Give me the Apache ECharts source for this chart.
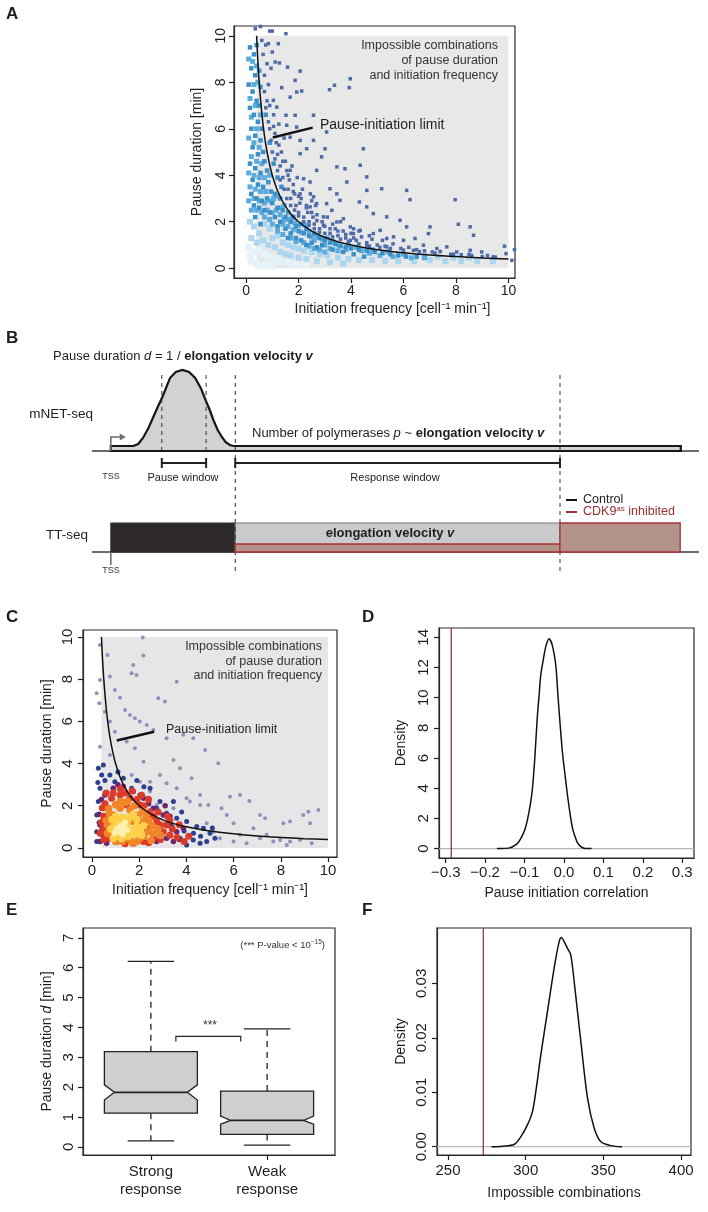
<!DOCTYPE html>
<html><head><meta charset="utf-8">
<script src="https://cdn.jsdelivr.net/npm/echarts@6/dist/echarts.min.js"></script>
<style>html,body{margin:0;padding:0;background:#fff}#c{width:708px;height:1212px}</style>
</head><body><div id="c"></div>
<script>
// ================= DATA =================
// ---- Panel A (pause duration vs initiation frequency, all genes) ----
const aTicks = [0, 2, 4, 6, 8, 10];
const aLimitCurve = [[0.4,10],[0.45,8.9],[0.5,8],[0.6,6.67],[0.7,5.7],[0.8,5],[0.9,4.45],[1,4],[1.2,3.33],[1.4,2.86],[1.6,2.5],[1.8,2.22],[2,2],[2.5,1.6],[3,1.33],[3.5,1.14],[4,1],[5,0.8],[6,0.67],[7,0.57],[8,0.5],[9,0.44],[10,0.4]];
const aImpossibleRegion = [[0.4, 0, 10, 10]];
const aPointer = [[1.02, 5.62, 2.54, 6.05]];
const aSparse = [[1.52,10.09],[0.85,9.66],[1.23,9.66],[1.11,8.87],[1.27,8.83],[1.58,8.65],[2.06,8.48],[1.87,8.08],[1.93,7.58],[1.68,7.36],[2.12,7.62],[3.18,7.68],[3.37,7.87],[3.93,7.77],[3.97,8.15],[1.36,7.77],[1.04,7.22],[1.17,6.93],[1.52,6.58],[1.87,6.58],[2.57,6.58],[1.55,6.15],[1.93,6.07],[3.07,5.86],[1.68,5.64],[2.06,5.5],[2.57,5.5],[3.01,5.14],[4.47,5.14],[2.06,4.93],[2.31,5.14],[2.88,4.79],[3.46,4.36],[3.77,4.28],[4.35,4.43],[4.6,3.93],[2.69,4.21],[1.68,4.21],[2.19,3.85],[2.44,3.71],[3.2,3.42],[3.46,3.2],[3.84,3.71],[5.17,3.42],[4.6,3.35],[6.12,3.35],[6.25,2.95],[7.97,2.95],[2.06,3.2],[2.57,3.07],[2.69,2.78],[3.07,2.78],[3.58,2.92],[4.32,2.85],[4.6,2.64],[4.85,2.35],[5.36,2.21],[5.87,2.06],[2.95,2.21],[3.46,1.99],[3.97,1.78],[4.35,1.63],[4.85,1.49],[5.36,1.28],[6.12,1.78],[6.44,1.28],[7.01,1.78],[6.95,1.49],[7.65,0.92],[8.09,1.89],[8.54,1.78],[8.67,1.42],[8.54,0.77],[8.98,0.7],[9.42,0.49],[9.85,0.95],[9.91,0.63],[10.23,0.8],[10.13,0.34],[5.62,1.35],[6.0,1.2],[6.76,0.99],[7.27,0.85],[8.03,0.7],[5.11,1.63],[4.09,1.49],[3.71,2.13],[3.27,2.49],[2.44,2.64],[3.97,1.2],[4.6,0.99],[6.38,0.77],[5.36,0.92],[0.55,10.4],[0.9,10.2],[1.0,10.2],[0.35,10.3]];
const aBand = [[1.0,5.0],[0.9,6.0],[0.8,7.2],[0.7,8.3],[0.65,9.2],[0.6,9.8],[0.85,7.9],[1.1,5.8],[1.2,4.9],[1.3,4.4],[1.4,3.9],[1.5,4.6],[1.6,3.4],[1.7,3.0],[1.8,3.6],[1.9,2.7],[2.0,2.4],[2.1,3.0],[2.2,2.2],[2.3,2.6],[2.4,2.0],[2.5,2.9],[2.6,1.9],[2.7,2.3],[2.8,1.7],[3.0,1.8],[3.1,2.2],[3.2,1.5],[3.4,1.7],[3.5,1.4],[3.6,2.0],[3.8,1.3],[4.0,1.5],[4.2,1.2],[4.4,1.35],[4.6,1.1],[4.8,1.25],[5.0,1.0],[5.3,0.95],[5.6,1.05],[5.9,0.85],[6.2,0.9],[6.5,0.8],[6.8,0.75],[7.1,0.7],[7.4,0.72],[7.8,0.6],[8.2,0.58],[8.6,0.55],[9.0,0.5],[9.5,0.48],[1.05,6.6],[1.15,5.4],[1.25,6.2],[1.35,5.0],[0.95,8.6],[1.0,9.3],[0.75,9.6],[1.45,5.6],[1.55,4.2],[1.65,3.8],[1.75,4.4],[1.85,3.2],[1.95,3.9],[2.05,2.8],[2.15,3.4],[2.35,2.4],[2.45,3.2],[2.55,2.2],[2.65,2.7],[2.9,2.0],[3.3,1.9],[3.7,1.6],[4.1,1.3],[4.3,1.6],[4.7,1.4],[5.2,1.2],
  [0.7,7.6],[0.75,6.9],[0.85,6.3],[0.95,5.5],[1.1,4.7],[1.2,4.2],[1.3,3.8],[1.45,3.4],[1.55,3.0],[1.7,2.7],[1.85,2.5],[2.0,2.25],[2.2,2.0],[2.4,1.85],[2.6,1.7],[2.8,1.55],[3.0,1.5],[3.3,1.35],[3.6,1.25],[3.9,1.15],[4.3,1.05],[4.7,0.95],[5.1,0.9],[5.5,0.85],[6.0,0.78],[6.6,0.72],[7.2,0.65],[7.9,0.6],[8.5,0.6],[9.2,0.55],[0.8,8.8],[0.9,7.0],[1.05,6.1],[1.25,5.3],[1.4,4.6],[1.6,4.0],[1.8,3.3],[2.0,3.1],[2.3,2.7],[2.5,2.4],[2.7,2.05],[2.95,1.85],[3.2,1.7],[3.5,1.6],[3.8,1.45],[4.1,1.7]];
const aCloudDense = [[0.15,9.5],[0.3,9.2],[0.2,8.6],[0.35,8.3],[0.1,7.9],[0.25,7.6],[0.4,7.2],[0.15,6.9],[0.3,6.6],[0.45,6.3],[0.5,7.0],[0.2,6.0],[0.35,5.7],[0.55,5.5],[0.6,6.0],[0.25,5.2],[0.45,4.9],[0.65,5.0],[0.7,4.6],[0.15,4.5],[0.35,4.3],[0.55,4.1],[0.8,4.2],[0.25,3.8],[0.45,3.6],[0.65,3.5],[0.85,3.7],[0.95,3.3],[0.2,3.2],[0.4,3.0],[0.6,2.9],[0.8,3.0],[1.0,2.8],[1.1,3.2],[1.2,2.6],[1.3,3.0],[1.4,2.5],[1.5,2.2],[1.6,2.4],[1.7,2.0],[1.8,2.2],[1.9,1.8],[2.0,1.6],[2.1,1.9],[2.2,1.5],[2.3,1.7],[2.4,1.4],[2.6,1.5],[2.8,1.3],[3.0,1.2],[3.2,1.1],[3.4,1.05],[3.6,0.95],[3.8,0.9],[4.0,0.85],[4.3,0.8],[4.6,0.75],[4.9,0.7],[5.2,0.65],[5.5,0.6],[5.8,0.55],[6.1,0.5],[6.5,0.5],[2.5,1.1],[2.7,0.9],[2.9,1.0],[3.3,0.8],[3.7,0.7],[4.1,0.6],[4.5,0.5],[1.3,2.0],[1.5,1.7],[1.7,1.5],[1.9,1.3],[2.1,1.2],[2.3,1.0],[0.9,2.4],[1.1,2.2],[0.7,2.5],[0.5,2.6],[0.3,2.7],[0.55,1.9],[0.35,2.2],[1.2,1.8],[1.6,1.3],[0.5,8.5],[0.4,9.6],[0.55,7.8],[0.75,6.6],[0.9,5.4],[1.05,4.5],[1.2,3.9],[1.35,3.5]];
const aCloudMid = [[0.1,9.0],[0.25,8.9],[0.4,8.7],[0.45,8.0],[0.3,7.9],[0.15,7.3],[0.35,7.0],[0.55,6.6],[0.2,6.5],[0.4,6.0],[0.1,5.6],[0.3,5.4],[0.5,5.2],[0.2,4.8],[0.4,4.6],[0.6,4.5],[0.1,4.1],[0.3,4.0],[0.5,3.9],[0.7,3.9],[0.9,4.0],[0.15,3.5],[0.35,3.4],[0.55,3.3],[0.75,3.3],[0.1,2.9],[0.3,3.0],[0.5,2.9],[0.7,2.8],[0.9,2.9],[1.05,3.0],[1.2,3.1],[0.2,2.5],[0.4,2.5],[0.6,2.4],[0.8,2.5],[1.0,2.4],[1.15,2.5],[1.3,2.6],[1.45,2.7],[0.7,2.2],[0.9,2.1],[1.3,2.3],[1.45,2.1],[1.6,2.1],[1.75,2.2],[1.85,1.95],[1.0,1.9],[1.4,1.9],[1.6,1.8],[1.8,1.65],[2.0,1.85],[2.1,1.55],[2.25,1.85],[2.4,1.6],[2.5,1.35],[2.7,1.4],[2.6,1.2],[2.9,1.25],[3.1,1.3],[3.0,1.0],[3.3,1.15],[3.5,1.0],[3.2,0.85],[3.5,0.75],[3.8,0.8],[3.9,1.0],[4.2,0.9],[4.4,0.75],[4.7,0.65],[4.8,0.8],[5.1,0.55],[5.4,0.7],[5.6,0.5],[6.0,0.6],[6.3,0.45],[6.8,0.45],[1.2,1.6],[1.4,1.45],[1.7,1.3],[1.9,1.15],[2.2,1.1],[2.4,0.95],[2.6,0.85],[2.8,0.8],[3.0,0.7]];
const aCloudLight = [[0.15,2.0],[0.3,1.8],[0.5,1.5],[0.7,1.9],[0.9,1.7],[1.0,1.3],[1.2,1.4],[1.4,1.1],[1.6,1.0],[1.8,0.9],[2.0,0.85],[2.2,0.75],[2.5,0.7],[2.8,0.6],[3.1,0.55],[3.5,0.45],[3.9,0.4],[4.3,0.35],[4.8,0.35],[5.3,0.3],[5.8,0.3],[6.4,0.3],[7.0,0.35],[7.6,0.3],[8.2,0.3],[8.8,0.3],[9.4,0.3],[0.2,1.3],[0.4,1.1],[0.65,1.2],[0.85,1.0],[1.1,0.9],[1.3,0.7],[1.5,0.6],[1.7,0.55],[2.0,0.45],[2.3,0.4],[2.7,0.3],[3.2,0.25],[3.7,0.2],[6.8,0.55],[7.3,0.5],[7.9,0.45],[8.5,0.45]];
const aCloudPale = [[0.1,0.9],[0.3,0.7],[0.5,0.8],[0.7,0.6],[0.9,0.5],[1.1,0.4],[1.3,0.3],[1.6,0.25],[1.9,0.2],[2.3,0.15],[0.2,0.3],[0.4,0.2],[0.6,0.1],[0.8,0.15],[1.0,0.1],[0.15,0.55]];

// ---- Panel B (schematic, positions in schematic gene units) ----
const bMnetBase = 12.9;
const bMnetProfile = [[3.1,13.4],[6.8,13.4],[7.6,13.6],[8.4,14.2],[9.3,15.2],[10.1,16.3],[10.9,17.4],[11.6,18.3],[12.85,20.2],[13.8,20.8],[14.9,21.0],[16.0,20.8],[17.0,20.2],[18.0,19.1],[18.7,18.0],[19.4,17.0],[20.0,16.0],[20.7,15.0],[21.4,14.3],[22.0,13.8],[22.7,13.5],[23.3,13.4],[97,13.4]];
const bTrackLines = [[0, 12.9, 100, 12.9], [0, 2.8, 100, 2.8]];
const bDashes = [[11.5, 12.9, 11.5, 20.6], [18.8, 12.9, 18.8, 20.6], [23.6, 0.9, 23.6, 20.6], [77.1, 0.9, 77.1, 20.6]];
const bBrackets = [[11.5, 18.8, 11.7], [23.6, 77.1, 11.7]];
const bTSS = [3.1];
const bTTPauseRegion = [[3.1, 2.8, 23.6, 5.7]];
const bTTControl = [[23.6, 2.8, 77.1, 5.7]];
const bTTInhibited = [[23.6, 2.8, 77.1, 3.6], [77.1, 2.8, 96.9, 5.7]];

// ---- Panel C (pause vs initiation, coloured by density) ----
const cTicks = [0, 2, 4, 6, 8, 10];
const cLimitCurve = aLimitCurve;
const cImpossibleRegion = [[0.4, 0, 10, 10]];
const cPointer = [[1.05, 5.09, 2.63, 5.51]];
const cSparse = [[0.34,9.62],[0.66,9.15],[2.15,9.98],[2.18,9.12],[0.34,7.96],[0.76,8.12],[0.97,7.49],[1.75,8.67],[1.68,8.28],[1.89,8.2],[3.59,7.88],[2.81,7.09],[3.09,6.94],[0.2,7.33],[0.31,6.86],[0.55,6.46],[1.19,7.12],[1.4,6.54],[1.61,6.3],[1.82,6.15],[2.03,5.99],[2.32,5.83],[2.6,5.59],[0.76,5.99],[0.97,5.51],[0.34,4.8],[0.76,4.41],[1.47,5.04],[1.82,4.72],[3.16,5.2],[3.87,5.36],[4.29,5.2],[4.79,4.64],[5.35,4.01],[3.45,4.17],[3.73,3.78],[4.22,3.3],[2.88,3.46],[2.18,4.09],[2.46,3.14],[3.16,3.06],[3.59,2.83],[4.01,2.35],[4.58,2.51],[4.93,2.04],[4.58,2.04],[5.49,1.88],[5.85,2.43],[6.27,2.51],[6.67,2.23],[5.71,1.56],[6.0,1.17],[6.27,0.62],[6.84,0.93],[7.12,0.46],[7.4,0.62],[7.68,0.3],[7.97,0.38],[8.25,0.14],[8.39,0.3],[8.81,0.38],[9.31,0.22],[8.11,1.17],[8.39,1.25],[8.95,1.56],[9.17,1.72],[9.59,1.8],[9.24,1.17],[7.12,1.56],[7.33,1.41],[5.14,0.77],[5.42,0.46],[6.0,0.3],[6.55,0.22],[4.86,1.17],[4.15,2.2],[3.45,1.88],[2.74,2.04],[2.46,2.67],[2.03,3.14],[1.68,3.46]];
const cNavy = [[0.27,3.78],[0.41,3.46],[0.34,2.83],[0.27,2.2],[0.2,1.56],[0.48,3.93],[0.76,3.46],[0.97,3.14],[1.33,3.3],[1.68,2.83],[2.03,2.51],[2.39,2.35],[2.74,1.88],[3.16,1.64],[3.59,1.41],[4.01,1.25],[4.44,1.01],[4.72,0.93],[5.0,0.7],[5.21,0.46],[4.86,0.3],[4.58,0.22],[4.29,0.38],[4.01,0.14],[3.73,0.46],[2.46,2.83],[2.88,2.2],[3.45,2.2],[0.2,0.77],[0.2,0.3],[0.25,3.1],[0.55,3.2],[1.1,3.6],[0.3,1.2],[3.9,0.8],[3.4,1.0],[4.3,0.7],[3.8,1.7],[2.2,2.9],[1.9,3.2],[5.1,0.95],[4.6,0.55]];
const cPurple = [[0.34,1.09],[0.41,1.88],[0.55,2.51],[0.9,2.83],[1.33,2.91],[1.75,2.67],[2.18,2.35],[2.6,1.88],[3.02,1.56],[3.31,1.09],[3.59,0.77],[3.45,0.3],[3.16,0.46],[2.74,0.3],[0.34,0.3],[0.62,0.22],[3.87,0.93],[2.88,0.93],[0.3,1.6],[0.4,2.3],[1.1,3.0],[2.4,2.1],[3.3,1.5],[3.7,0.4],[3.1,2.0],[0.45,0.6]];
const cRed = [[0.62,1.25],[0.69,1.88],[0.83,2.35],[1.19,2.51],[1.61,2.35],[2.03,2.04],[2.46,1.72],[2.74,1.25],[3.02,0.77],[2.6,0.46],[2.18,0.3],[1.75,0.22],[1.05,0.3],[0.76,0.46],[0.62,0.77],[2.32,0.93],[3.16,1.09],[1.47,2.04],[1.05,2.04],[0.5,1.5],[0.45,0.9],[0.9,2.6],[1.4,2.6],[1.9,2.3],[2.2,2.0],[2.6,1.5],[2.9,1.1],[3.3,0.6],[2.9,0.4],[2.4,0.25],[1.4,0.2],[0.5,0.4],[2.8,1.7],[3.3,1.3],[2.1,2.5],[1.7,2.7],[0.55,2.1],[3.6,0.5],[3.9,0.3],[3.4,0.9],[3.7,1.1],[4.1,0.55],[3.2,1.5],[2.4,2.3],[0.4,1.2],[0.45,1.9],[0.6,2.6],[1.2,2.8],[0.35,0.7]];
const cOrange = [[0.9,1.56],[1.19,1.88],[1.61,1.8],[1.96,1.56],[2.25,1.25],[2.39,0.77],[2.03,0.46],[1.61,0.38],[1.12,0.46],[0.9,0.85],[0.83,1.17],[1.75,1.25],[0.75,1.6],[1.0,2.05],[1.4,2.15],[1.8,2.0],[2.15,1.75],[2.55,1.05],[2.6,0.7],[2.2,0.55],[1.9,0.3],[1.3,0.3],[0.85,0.6],[0.7,1.0],[2.0,1.3],[0.6,1.3],[0.65,0.7],[1.5,2.2],[2.3,1.5],[2.8,0.9],[2.9,0.6],[2.5,0.35],[1.7,0.25],[1.0,0.3],[0.7,1.85],[2.4,1.3],[1.2,2.2]];
const cYellow = [[1.19,0.93],[1.47,1.09],[1.4,0.7],[1.68,0.85],[1.12,1.25],[1.89,1.01],[1.0,0.75],[1.3,1.45],[1.6,1.45],[1.85,0.65],[1.55,0.55],[1.1,0.55],[0.95,1.05],[2.05,0.85],[1.75,1.6],[0.8,0.9],[0.85,1.35],[1.25,0.45],[2.2,1.05],[2.1,0.6],[1.0,1.5],[1.5,1.3],[1.9,1.35],[0.9,0.45]];
const cPale = [[1.26,0.85],[1.36,0.96],[1.2,1.05],[1.5,0.85],[1.05,0.9],[1.3,0.65],[1.15,0.75],[1.4,1.2],[0.95,0.7]];

// ---- Panel D (null distribution of pause-initiation correlation) ----
const dTicksX = [-0.3, -0.2, -0.1, 0, 0.1, 0.2, 0.3];
const dTicksY = [0, 2, 4, 6, 8, 10, 12, 14];
const dDensity = [[-0.17,0],[-0.16,0],[-0.14,0.03],[-0.12,0.3],[-0.11,0.65],[-0.1,1.2],[-0.093,1.87],[-0.085,3.0],[-0.08,3.98],[-0.074,6.0],[-0.068,8.6],[-0.063,10.2],[-0.059,11.5],[-0.052,12.6],[-0.046,13.4],[-0.038,13.9],[-0.03,13.5],[-0.021,12.2],[-0.017,10.8],[-0.013,9.3],[-0.004,6.4],[0.003,4.8],[0.009,3.5],[0.016,2.2],[0.022,1.3],[0.028,0.8],[0.034,0.4],[0.042,0.15],[0.051,0.02],[0.06,0],[0.07,0]];
const dObserved = [-0.286];

// ---- Panel E (notched boxplots) ----
const eCategories = ['Strong\nresponse', 'Weak\nresponse'];
const eTicksY = [0, 1, 2, 3, 4, 5, 6, 7];
// [position, lowerWhisker, Q1, notchLow, median, notchHigh, Q3, upperWhisker]
const eBoxes = [[1, 0.2, 1.13, 1.57, 1.83, 2.08, 3.19, 6.21], [2, 0.06, 0.42, 0.76, 0.89, 1.03, 1.87, 3.95]];
const eSignifBracket = [[1.215, 1.773, 3.7, 3.53]];

// ---- Panel F (null distribution of impossible combinations) ----
const fTicksX = [250, 300, 350, 400];
const fTicksY = [0, 0.01, 0.02, 0.03];
const fDensity = [[278,0],[285,0.0001],[292.5,0.0004],[296.8,0.0018],[301.1,0.004],[304.3,0.0064],[306.5,0.0101],[309.7,0.0168],[314,0.0248],[318.3,0.0328],[321.5,0.0376],[323,0.0384],[324.5,0.0378],[326.9,0.0364],[329,0.0352],[331.2,0.0303],[335.5,0.0193],[339.8,0.0089],[344.1,0.0034],[348.4,0.0009],[354.8,0.0002],[362,0]];
const fObserved = [272.7];

// ================= STYLE / BUILD =================
const FONT = "'Liberation Sans', Arial, Helvetica, sans-serif";
const INK = '#1e1e1e';
const chart = echarts.init(document.getElementById('c'), null, {renderer: 'canvas'});

function box(l, t, w, h) {
  return {left: l, top: t, width: w, height: h, show: true, borderColor: '#2a2a2a', borderWidth: 1.2, backgroundColor: 'transparent', containLabel: false};
}
function axis(gi, min, max, ticks, o) {
  o = o || {};
  return {
    gridIndex: gi, type: 'value', min: min, max: max,
    axisLine: {show: true, onZero: false, lineStyle: {color: '#2a2a2a', width: 1.2}}, splitLine: {show: false},
    axisTick: {show: true, inside: false, length: 5, lineStyle: {color: INK, width: 1.2}, customValues: ticks},
    axisLabel: {show: true, customValues: ticks, fontSize: o.fs || 15, fontFamily: FONT, color: INK,
      margin: o.margin == null ? 6 : o.margin, rotate: o.rotate || 0, formatter: o.fmt, lineHeight: o.lh},
    name: o.name || '', nameLocation: 'middle', nameGap: o.gap || 25,
    nameTextStyle: {fontSize: o.nfs || 14, fontFamily: FONT, color: INK, padding: o.npad || 0, rich: o.rich}
  };
}
function hidden(gi, min, max) {
  return {gridIndex: gi, type: 'value', min: min, max: max, show: false, splitLine: {show: false}, axisLine: {onZero: false}};
}
const minusFmt = v => (v < 0 ? '\u2212' : '') + Math.abs(v).toFixed(1);

function rects(gi, arr, style, z) {
  return {type: 'custom', xAxisIndex: gi, yAxisIndex: gi, z: z || 1, silent: true, data: arr,
    renderItem: (p, api) => {
      const a = api.coord([api.value(0), api.value(1)]), b = api.coord([api.value(2), api.value(3)]);
      return {type: 'rect', shape: {x: Math.min(a[0], b[0]), y: Math.min(a[1], b[1]), width: Math.abs(b[0] - a[0]), height: Math.abs(b[1] - a[1])}, style: style};
    }};
}
function segs(gi, arr, style, z) {
  return {type: 'custom', xAxisIndex: gi, yAxisIndex: gi, z: z || 3, silent: true, data: arr,
    renderItem: (p, api) => {
      const a = api.coord([api.value(0), api.value(1)]), b = api.coord([api.value(2), api.value(3)]);
      return {type: 'line', shape: {x1: a[0], y1: a[1], x2: b[0], y2: b[1]}, style: style};
    }};
}
function pts(gi, arr, color, size, symbol, z) {
  return {type: 'scatter', xAxisIndex: gi, yAxisIndex: gi, data: arr, symbol: symbol || 'circle', symbolSize: size,
    itemStyle: {color: color, opacity: 1}, z: z || 2, silent: true, clip: false, emphasis: {disabled: true}};
}
function curve(gi, arr, color, width, z, smooth) {
  return {type: 'line', xAxisIndex: gi, yAxisIndex: gi, data: arr, symbol: 'none', smooth: smooth || false,
    lineStyle: {color: color, width: width}, z: z || 4, silent: true};
}
function vlines(gi, xs, ymin, ymax, color, width) {
  return segs(gi, xs.map(x => [x, ymin, x, ymax]), {stroke: color, lineWidth: width}, 3);
}
function txt(x, y, text, o) {
  o = o || {};
  return {type: 'text', x: x, y: y, silent: true, z: 100, style: {text: text, fontSize: o.fs || 13, fontFamily: FONT,
    fontWeight: o.fw || 'normal', fontStyle: o.it ? 'italic' : 'normal', fill: o.color || INK,
    align: o.align || 'left', verticalAlign: 'middle', rich: o.rich, lineHeight: o.lh}};
}
function richSet(fs, color) {
  return {
    n: {fontSize: fs, fontFamily: FONT, fill: color, color: color},
    i: {fontSize: fs, fontFamily: FONT, fontStyle: 'italic', fill: color, color: color},
    b: {fontSize: fs, fontFamily: FONT, fontWeight: 'bold', fill: color, color: color},
    bi: {fontSize: fs, fontFamily: FONT, fontWeight: 'bold', fontStyle: 'italic', fill: color, color: color},
    sup: {fontSize: Math.round(fs * 0.6), fontFamily: FONT, fill: color, color: color, verticalAlign: 'top', padding: [0, 0, 6, 0]}
  };
}

// ---- grids ----
const grids = [
  box(234, 26, 281, 252),   // A
  {left: 92, top: 360, width: 607, height: 220, show: false}, // B
  box(83, 630, 254, 227),   // C
  box(439, 628, 255, 230),  // D
  box(83, 928, 252, 227),   // E
  box(437, 928, 254, 227)   // F
];

const xAxes = [
  axis(0, -0.46, 10.25, aTicks, {fs: 14, margin: 6, name: 'Initiation frequency [cell\u207B\u00B9 min\u207B\u00B9]', gap: 24, npad: [0, 0, 0, 36]}),
  hidden(1, 0, 100),
  axis(2, -0.38, 10.38, cTicks, {margin: 6, name: 'Initiation frequency [cell\u207B\u00B9 min\u207B\u00B9]', gap: 26}),
  axis(3, -0.317, 0.3297, dTicksX, {margin: 7, fmt: minusFmt, name: 'Pause initiation correlation', gap: 28}),
  axis(4, 0.416, 2.584, [1, 2], {margin: 8, lh: 18, fmt: v => eCategories[Math.round(v) - 1], name: ''}),
  axis(5, 242.9, 406.4, fTicksX, {margin: 8, name: 'Impossible combinations', gap: 31})
];
const yAxes = [
  axis(0, -0.42, 10.42, aTicks, {fs: 14, rotate: 90, margin: 6, name: 'Pause duration [min]', gap: 30}),
  hidden(1, 0, 22),
  axis(2, -0.43, 10.33, cTicks, {rotate: 90, margin: 8, name: 'Pause duration [min]', gap: 29}),
  axis(3, -0.625, 14.62, dTicksY, {rotate: 90, margin: 8, name: 'Density', gap: 31}),
  axis(4, -0.27, 7.33, eTicksY, {rotate: 90, margin: 7, name: 'Pause duration {i|d} [min]', gap: 29,
    rich: {i: {fontStyle: 'italic', fontSize: 14, fontFamily: FONT, color: INK}}}),
  axis(5, -0.00152, 0.04015, fTicksY, {rotate: 90, margin: 8, fmt: v => v.toFixed(2), name: 'Density', gap: 29})
];

const series = [];
// ---- A ----
series.push(rects(0, aImpossibleRegion, {fill: '#e8e8e8'}, 0));
series.push(pts(0, aCloudPale, '#e6f2fa', 7, 'rect', 1));
series.push(pts(0, aCloudLight, '#aad6ef', 6, 'rect', 1));
series.push(pts(0, aCloudMid, '#5aacdc', 5, 'rect', 2));
series.push(pts(0, aCloudDense, '#3a90c8', 4.5, 'rect', 2));
series.push(pts(0, aBand, '#4e6ba8', 3.5, 'rect', 2));
series.push(pts(0, aSparse, '#4e6ba8', 3.5, 'rect', 2));
series.push(curve(0, aLimitCurve, '#111', 1.5, 5, 0.3));
series.push(segs(0, aPointer, {stroke: '#111', lineWidth: 2.5}, 5));

// ---- B ----
series.push(segs(1, bTrackLines, {stroke: '#6c6c6c', lineWidth: 2}, 1));
series.push({type: 'custom', xAxisIndex: 1, yAxisIndex: 1, z: 2, silent: true, data: [[0, 0]],
  renderItem: (p, api) => {
    const poly = bMnetProfile.map(d => api.coord(d));
    poly.push(api.coord([bMnetProfile[bMnetProfile.length - 1][0], bMnetBase]));
    poly.push(api.coord([bMnetProfile[0][0], bMnetBase]));
    return {type: 'polygon', shape: {points: poly}, style: {fill: '#d2d2d2', stroke: '#161616', lineWidth: 2.2}};
  }});
series.push(segs(1, bDashes, {stroke: '#333', lineWidth: 1, lineDash: [4, 4]}, 3));
series.push({type: 'custom', xAxisIndex: 1, yAxisIndex: 1, z: 3, silent: true, data: bBrackets,
  renderItem: (p, api) => {
    const x0 = api.value(0), x1 = api.value(1), y = api.value(2);
    const a = api.coord([x0, y]), b = api.coord([x1, y]);
    const st = {stroke: '#222', lineWidth: 2};
    return {type: 'group', children: [
      {type: 'line', shape: {x1: a[0], y1: a[1], x2: b[0], y2: b[1]}, style: st},
      {type: 'line', shape: {x1: a[0], y1: a[1] - 5, x2: a[0], y2: a[1] + 5}, style: st},
      {type: 'line', shape: {x1: b[0], y1: b[1] - 5, x2: b[0], y2: b[1] + 5}, style: st}
    ]};
  }});
series.push({type: 'custom', xAxisIndex: 1, yAxisIndex: 1, z: 4, silent: true, data: bTSS.map(x => [x, 0]),
  renderItem: (p, api) => {
    const x = api.value(0);
    const base = api.coord([x, bMnetBase]), top = api.coord([x, 14.3]), head = api.coord([5.4, 14.3]);
    const ttBase = api.coord([x, 2.8]), ttLow = api.coord([x, 1.5]);
    const st = {stroke: '#6e6e6e', lineWidth: 1.6, fill: 'none'};
    return {type: 'group', children: [
      {type: 'polyline', shape: {points: [base, top, [head[0] - 4, head[1]]]}, style: st},
      {type: 'polygon', shape: {points: [[head[0] + 1, head[1]], [head[0] - 5, head[1] - 3.5], [head[0] - 5, head[1] + 3.5]]}, style: {fill: '#6e6e6e'}},
      {type: 'line', shape: {x1: ttBase[0], y1: ttBase[1], x2: ttLow[0], y2: ttLow[1]}, style: st}
    ]};
  }});
series.push(rects(1, bTTPauseRegion, {fill: '#2e2a2a', stroke: '#2e2a2a', lineWidth: 1}, 2));
series.push(rects(1, bTTControl, {fill: '#c9cacc', stroke: '#7b7b7b', lineWidth: 1.2}, 2));
series.push(rects(1, bTTInhibited, {fill: '#b39289', stroke: '#a83434', lineWidth: 1.3}, 3));

// ---- C ----
series.push(rects(2, cImpossibleRegion, {fill: '#e6e6e6'}, 0));
series.push(pts(2, cSparse, '#8c93ba', 4));
series.push(pts(2, cNavy, '#2d3f8f', 5));
series.push(pts(2, cPurple, '#6b2472', 5.5));
series.push(pts(2, cRed, '#dc3b29', 7));
series.push(pts(2, cOrange, '#f28526', 7.5));
series.push(pts(2, cYellow, '#fdd147', 7.5));
series.push(pts(2, cPale, '#fff0b0', 6));
series.push(curve(2, cLimitCurve, '#111', 1.5, 5, 0.3));
series.push(segs(2, cPointer, {stroke: '#111', lineWidth: 2.5}, 5));

// ---- D ----
series.push(segs(3, [[-0.317, 0, 0.3297, 0]], {stroke: '#b5b5b5', lineWidth: 1.2}, 2));
series.push(vlines(3, dObserved, -0.625, 14.62, '#8e2b2b', 1.2));
series.push(curve(3, dDensity, '#111', 1.5, 4, 0.3));

// ---- E ----
series.push({type: 'custom', xAxisIndex: 4, yAxisIndex: 4, z: 3, silent: true, data: eBoxes,
  renderItem: (p, api) => {
    const v = i => api.value(i);
    const x = v(0), low = v(1), q1 = v(2), nlo = v(3), med = v(4), nhi = v(5), q3 = v(6), high = v(7);
    const hw = 0.4, nw = 0.314, cw = 0.2;
    const c = (a, b) => api.coord([a, b]);
    const st = {stroke: '#222', lineWidth: 1.3};
    const dash = {stroke: '#222', lineWidth: 1.3, lineDash: [6, 5]};
    const L = (a, b, s) => ({type: 'line', shape: {x1: a[0], y1: a[1], x2: b[0], y2: b[1]}, style: s});
    return {type: 'group', children: [
      L(c(x, q3), c(x, high), dash), L(c(x, q1), c(x, low), dash),
      L(c(x - cw, high), c(x + cw, high), st), L(c(x - cw, low), c(x + cw, low), st),
      {type: 'polygon', shape: {points: [c(x - hw, q1), c(x + hw, q1), c(x + hw, nlo), c(x + nw, med), c(x + hw, nhi), c(x + hw, q3), c(x - hw, q3), c(x - hw, nhi), c(x - nw, med), c(x - hw, nlo)]},
        style: {fill: '#cfcfcf', stroke: '#222', lineWidth: 1.3}},
      L(c(x - nw, med), c(x + nw, med), {stroke: '#222', lineWidth: 1.8})
    ]};
  }});
series.push({type: 'custom', xAxisIndex: 4, yAxisIndex: 4, z: 3, silent: true, data: eSignifBracket,
  renderItem: (p, api) => {
    const a = api.coord([api.value(0), api.value(2)]), b = api.coord([api.value(1), api.value(2)]);
    const a2 = api.coord([api.value(0), api.value(3)]), b2 = api.coord([api.value(1), api.value(3)]);
    return {type: 'polyline', shape: {points: [a2, a, b, b2]}, style: {stroke: '#222', lineWidth: 1.2, fill: 'none'}};
  }});

// ---- F ----
series.push(segs(5, [[242.9, 0, 406.4, 0]], {stroke: '#b5b5b5', lineWidth: 1.2}, 2));
series.push(vlines(5, fObserved, -0.00152, 0.04015, '#8e2b2b', 1.2));
series.push(curve(5, fDensity, '#111', 1.5, 4, 0.3));

// ---- annotations ----
const R13 = richSet(13, INK);
const graphic = [
  txt(6, 14, 'A', {fs: 17, fw: 'bold'}),
  txt(6, 338, 'B', {fs: 17, fw: 'bold'}),
  txt(6, 617, 'C', {fs: 17, fw: 'bold'}),
  txt(362, 617, 'D', {fs: 17, fw: 'bold'}),
  txt(6, 910, 'E', {fs: 17, fw: 'bold'}),
  txt(362, 910, 'F', {fs: 17, fw: 'bold'}),
  // A
  txt(498, 46, 'Impossible combinations', {fs: 12.5, align: 'right', color: '#333'}),
  txt(498, 61, 'of pause duration', {fs: 12.5, align: 'right', color: '#333'}),
  txt(498, 76, 'and initiation frequency', {fs: 12.5, align: 'right', color: '#333'}),
  txt(320, 125, 'Pause-initiation limit', {fs: 14, color: '#222'}),
  // B
  txt(53, 356, '{n|Pause duration }{i|d}{n| = 1 / }{b|elongation velocity }{bi|v}', {rich: R13}),
  txt(93, 414, 'mNET-seq', {fs: 13.5, align: 'right'}),
  txt(252, 433, '{n|Number of polymerases }{i|p}{n| ~ }{b|elongation velocity }{bi|v}', {rich: R13}),
  txt(111, 477, 'TSS', {fs: 9, align: 'center', color: '#333'}),
  txt(183, 478, 'Pause window', {fs: 11, align: 'center', color: '#222'}),
  txt(395, 478, 'Response window', {fs: 11, align: 'center', color: '#222'}),
  {type: 'line', silent: true, shape: {x1: 566, y1: 500, x2: 577, y2: 500}, style: {stroke: '#111', lineWidth: 2}},
  {type: 'line', silent: true, shape: {x1: 566, y1: 512, x2: 577, y2: 512}, style: {stroke: '#a33030', lineWidth: 2}},
  txt(583, 500, 'Control', {fs: 12.5, color: '#222'}),
  txt(583, 512, '{n|CDK9}{sup|as}{n| inhibited}', {rich: richSet(12.5, '#9b2d2d')}),
  txt(88, 535, 'TT-seq', {fs: 13.5, align: 'right'}),
  txt(390, 533, '{b|elongation velocity }{bi|v}', {rich: R13, align: 'center'}),
  txt(111, 571, 'TSS', {fs: 9, align: 'center', color: '#333'}),
  // C
  txt(322, 647, 'Impossible combinations', {fs: 12.5, align: 'right', color: '#333'}),
  txt(322, 662, 'of pause duration', {fs: 12.5, align: 'right', color: '#333'}),
  txt(322, 676, 'and initiation frequency', {fs: 12.5, align: 'right', color: '#333'}),
  txt(166, 730, 'Pause-initiation limit', {fs: 12.5, color: '#222'}),
  // E
  txt(210, 1026, '***', {fs: 12, align: 'center', color: '#333'}),
  txt(325, 945, '(*** P-value < 10{sup|\u221215})', {fs: 9.5, align: 'right', color: '#333', rich: {sup: {fontSize: 6.5, fontFamily: FONT, fill: '#333', verticalAlign: 'top', padding: [0, 0, 5, 0]}}})
];

chart.setOption({
  animation: false,
  backgroundColor: '#fff',
  grid: grids, xAxis: xAxes, yAxis: yAxes, series: series, graphic: graphic
});
</script></body></html>
